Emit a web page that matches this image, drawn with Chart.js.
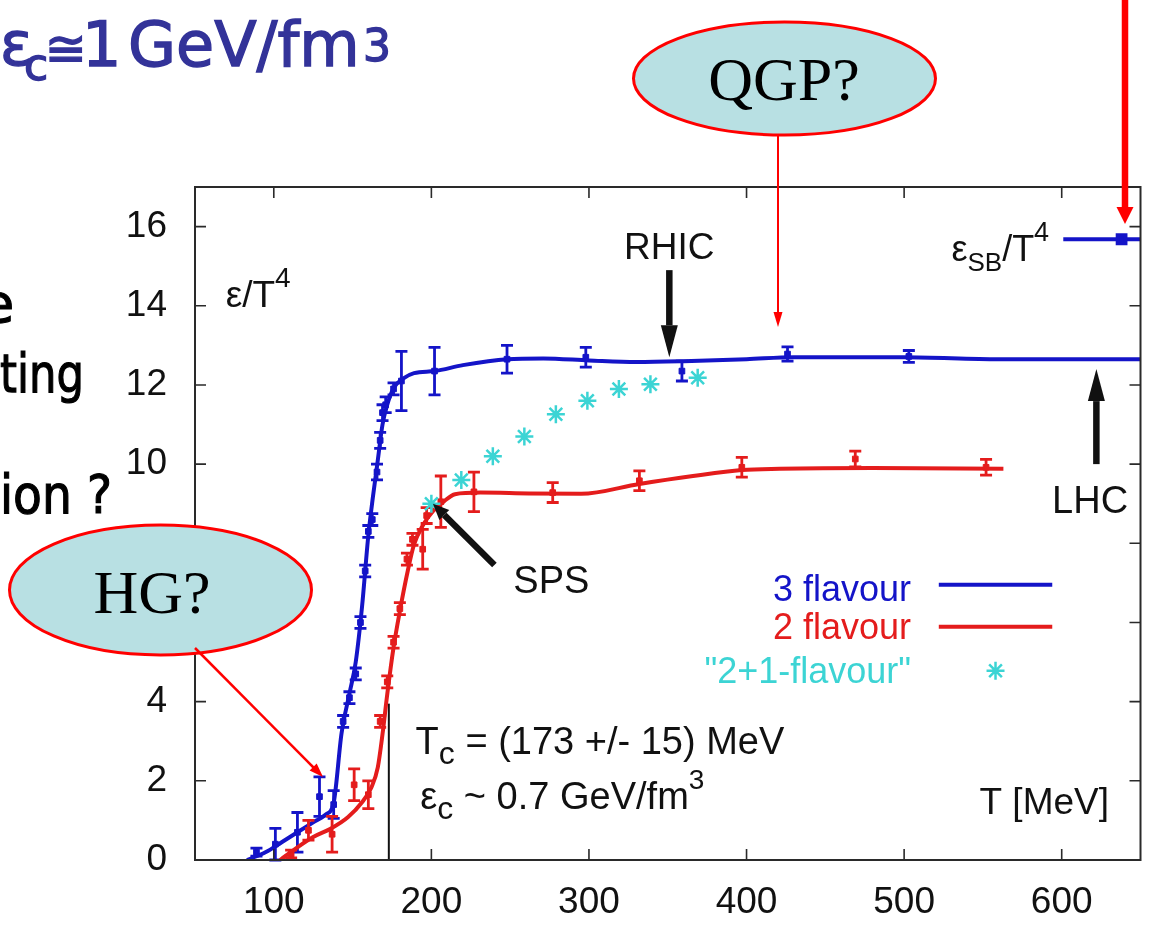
<!DOCTYPE html>
<html lang="en">
<head>
<meta charset="utf-8">
<title>Energy density ε/T⁴ vs T</title>
<script src="https://cdn.jsdelivr.net/npm/chart.js@4.4.1/dist/chart.umd.min.js"></script>
<style>
  html, body { margin: 0; padding: 0; background: #fff; }
  #page { position: relative; width: 1152px; height: 926px; overflow: hidden; background: #fff; }
  #chart { position: absolute; left: 0; top: 0; }
  #overlay { position: absolute; left: 0; top: 0; pointer-events: none; }
</style>
</head>
<body>
<div id="page">
  <canvas id="chart" width="1152" height="926"></canvas>

  <svg id="overlay" width="1152" height="926" viewBox="0 0 1152 926">
    <!-- slide text around the plot -->
    <g font-family="'Comic Sans MS', 'DejaVu Sans', sans-serif" fill="#333399" stroke="#333399" stroke-width="1.4">
      <text y="65">
        <tspan x="0" font-size="60">ε</tspan><tspan x="24" y="80" font-size="44">c</tspan><tspan x="45" y="66" font-size="50">≅</tspan><tspan x="82" font-size="62">1</tspan><tspan x="128" font-size="62">GeV/fm</tspan><tspan x="363" y="61" font-size="44">3</tspan>
      </text>
    </g>
    <g font-family="'Comic Sans MS', 'DejaVu Sans', sans-serif" fill="#000" stroke="#000" stroke-width="1.2" font-size="54">
      <text x="-19" y="322">e</text>
      <text x="0" y="392" textLength="84" lengthAdjust="spacingAndGlyphs">ting</text>
      <text x="0" y="513" textLength="112" lengthAdjust="spacingAndGlyphs">ion ?</text>
    </g>

    <!-- QGP? bubble -->
    <ellipse cx="784.5" cy="78.5" rx="151" ry="56.5" fill="#b8e0e3" stroke="#ff0000" stroke-width="3"/>
    <text x="784" y="100" text-anchor="middle" font-family="'Liberation Serif', 'Times New Roman', serif" font-size="62" fill="#000">QGP?</text>
    <line x1="778" y1="135" x2="778" y2="315" stroke="#ff0000" stroke-width="2"/>
    <polygon points="778,327 773.5,312 782.5,312" fill="#ff0000"/>

    <!-- HG? bubble -->
    <ellipse cx="160.5" cy="590" rx="151" ry="65" fill="#b8e0e3" stroke="#ff0000" stroke-width="3"/>
    <text x="152" y="613" text-anchor="middle" font-family="'Liberation Serif', 'Times New Roman', serif" font-size="62" fill="#000">HG?</text>
    <line x1="195" y1="648" x2="314" y2="768" stroke="#ff0000" stroke-width="2.5"/>
    <polygon points="323,777 309.6,770.6 316.7,763.6" fill="#ff0000"/>

    <!-- thick arrow onto the Stefan-Boltzmann limit -->
    <line x1="1125" y1="0" x2="1125" y2="210" stroke="#ff0000" stroke-width="6.5"/>
    <polygon points="1125,224 1116.5,207 1133.5,207" fill="#ff0000"/>
  </svg>
</div>

<script>
'use strict';

// ── Axes ───────────────────────────────────────────────────────────────
const xTicks = [100, 200, 300, 400, 500, 600];
const yTicks = [0, 2, 4, 6, 8, 10, 12, 14, 16];

// ── 3 flavour: fitted curve and lattice points (ε/T⁴ vs T [MeV]) ───────
const blueFitT = [83, 95, 105, 115, 125, 133, 138, 143, 148, 152, 156, 160, 163, 166, 169, 172, 176, 182, 189, 202, 220, 248, 271, 300, 330, 360, 400, 430, 500, 560, 650];
const blueFitE = [0, 0.2, 0.45, 0.7, 0.95, 1.15, 1.45, 3.2, 4.2, 5.0, 6.4, 8.2, 9.2, 10.1, 11.0, 11.5, 11.92, 12.16, 12.3, 12.35, 12.5, 12.65, 12.67, 12.62, 12.58, 12.6, 12.65, 12.7, 12.7, 12.65, 12.65];

const bluePtT   = [89, 101, 115, 129, 138, 144, 148, 152, 155, 158, 160, 162.5, 165.5, 167.5, 169, 171, 176, 181, 202, 248, 298, 359, 426, 503];
const bluePtE   = [0.2, 0.4, 0.7, 1.6, 1.4, 3.5, 4.1, 4.7, 6.0, 7.3, 8.3, 8.6, 9.8, 10.6, 11.3, 11.5, 11.9, 12.1, 12.35, 12.65, 12.7, 12.35, 12.78, 12.72];
const bluePtErr = [0.1, 0.4, 0.5, 0.5, 0.35, 0.15, 0.15, 0.15, 0.15, 0.15, 0.15, 0.15, 0.2, 0.2, 0.2, 0.2, 0.15, 0.75, 0.6, 0.35, 0.25, 0.25, 0.18, 0.15];

// ── 2 flavour ──────────────────────────────────────────────────────────
const redFitT = [104, 115, 125, 136, 147, 156, 162, 166, 169, 172, 176, 180, 185, 189, 195, 201, 208, 215, 231, 262, 295, 332, 366, 397, 421, 480, 563];
const redFitE = [0, 0.32, 0.58, 0.79, 1.08, 1.46, 1.84, 2.34, 3.18, 4.19, 5.37, 6.29, 7.3, 7.97, 8.48, 8.81, 9.06, 9.24, 9.28, 9.26, 9.25, 9.5, 9.7, 9.85, 9.88, 9.9, 9.88];

const redPtT   = [111, 122, 137, 151, 160, 167.5, 172, 176, 180, 184.5, 188, 194.5, 197, 206, 227, 277, 332, 397, 469, 552];
const redPtE   = [0.15, 0.75, 0.65, 1.9, 1.65, 3.5, 4.5, 5.5, 6.35, 7.6, 8.1, 7.85, 8.7, 9.05, 9.3, 9.28, 9.58, 9.92, 10.13, 9.92];
const redPtErr = [0.1, 0.25, 0.45, 0.4, 0.35, 0.15, 0.15, 0.15, 0.15, 0.15, 0.15, 0.5, 0.2, 0.65, 0.5, 0.25, 0.25, 0.25, 0.2, 0.2];

// ── "2+1-flavour" estimate ─────────────────────────────────────────────
const mixT = [200, 219, 239, 259, 279, 299, 319, 339, 369];
const mixE = [9.0, 9.6, 10.2, 10.7, 11.26, 11.6, 11.9, 12.02, 12.18];

// ── Stefan-Boltzmann limit (3 flavour) ─────────────────────────────────
const sbT = [601, 638, 650];
const sbE = [15.68, 15.68, 15.68];

// ── Critical temperature marker ────────────────────────────────────────
const tcT = 173;
const tcTop = 3.95;

// ── Style ──────────────────────────────────────────────────────────────
const FONT = "'Liberation Sans', Arial, Helvetica, sans-serif";
const C = {
  blue: '#1414c8',
  red:  '#e41c1c',
  cyan: '#3cd4d4',
  ink:  '#111111',
  frame: '#2a2a2a',
};

Chart.defaults.font.family = FONT;
Chart.defaults.color = C.ink;

const toXY = (xs, ys) => xs.map((x, i) => ({ x, y: ys[i] }));

// ── Canvas helpers ─────────────────────────────────────────────────────
function drawRich(ctx, x, y, parts, color) {
  ctx.fillStyle = color;
  ctx.textAlign = 'left';
  ctx.textBaseline = 'alphabetic';
  let cx = x;
  parts.forEach(p => {
    ctx.font = `${p.size}px ${FONT}`;
    ctx.fillText(p.t, cx, y + (p.dy || 0));
    cx += ctx.measureText(p.t).width;
  });
}

function drawText(ctx, text, x, y, size, color, align) {
  ctx.font = `${size}px ${FONT}`;
  ctx.fillStyle = color;
  ctx.textAlign = align || 'left';
  ctx.textBaseline = 'alphabetic';
  ctx.fillText(text, x, y);
}

function drawArrow(ctx, x1, y1, x2, y2, width, headLen, headHalf, color) {
  const ang = Math.atan2(y2 - y1, x2 - x1);
  const bx = x2 - headLen * Math.cos(ang);
  const by = y2 - headLen * Math.sin(ang);
  ctx.strokeStyle = color;
  ctx.fillStyle = color;
  ctx.lineWidth = width;
  ctx.lineCap = 'butt';
  ctx.beginPath();
  ctx.moveTo(x1, y1);
  ctx.lineTo(bx, by);
  ctx.stroke();
  ctx.beginPath();
  ctx.moveTo(x2, y2);
  ctx.lineTo(bx + headHalf * Math.sin(ang), by - headHalf * Math.cos(ang));
  ctx.lineTo(bx - headHalf * Math.sin(ang), by + headHalf * Math.cos(ang));
  ctx.closePath();
  ctx.fill();
}

// ── Plugin: error bars, frame with inner ticks, annotations, legend ────
const plotDecor = {
  id: 'plotDecor',

  beforeDatasetsDraw(chart) {
    const { ctx, scales: { x, y } } = chart;
    ctx.save();
    ctx.strokeStyle = C.ink;
    ctx.lineWidth = 2;
    ctx.beginPath();
    ctx.moveTo(x.getPixelForValue(tcT), y.getPixelForValue(0));
    ctx.lineTo(x.getPixelForValue(tcT), y.getPixelForValue(tcTop));
    ctx.stroke();
    ctx.restore();
  },

  afterDatasetDraw(chart, args) {
    const ds = chart.data.datasets[args.index];
    if (!ds.errors) return;
    const { ctx, scales: { y } } = chart;
    ctx.save();
    ctx.strokeStyle = ds.borderColor;
    ctx.lineWidth = 2.8;
    args.meta.data.forEach((el, i) => {
      const err = ds.errors[i];
      const v = ds.data[i].y;
      const top = y.getPixelForValue(v + err);
      const bot = y.getPixelForValue(Math.max(0, v - err));
      ctx.beginPath();
      ctx.moveTo(el.x, top);     ctx.lineTo(el.x, bot);
      ctx.moveTo(el.x - 6, top); ctx.lineTo(el.x + 6, top);
      ctx.moveTo(el.x - 6, bot); ctx.lineTo(el.x + 6, bot);
      ctx.stroke();
    });
    ctx.restore();
  },

  afterDatasetsDraw(chart) {
    const { ctx, chartArea: a, scales: { x, y } } = chart;
    const X = v => x.getPixelForValue(v);
    const Y = v => y.getPixelForValue(v);
    const tl = 11;

    ctx.save();

    // frame
    ctx.strokeStyle = C.frame;
    ctx.lineWidth = 2;
    ctx.strokeRect(a.left, a.top, a.right - a.left, a.bottom - a.top);

    // inner ticks on all four sides
    ctx.lineWidth = 1.6;
    ctx.beginPath();
    xTicks.forEach(v => {
      ctx.moveTo(X(v), a.bottom); ctx.lineTo(X(v), a.bottom - tl);
      ctx.moveTo(X(v), a.top);    ctx.lineTo(X(v), a.top + tl);
    });
    yTicks.filter(v => v > 0).forEach(v => {
      ctx.moveTo(a.left, Y(v));  ctx.lineTo(a.left + tl, Y(v));
      ctx.moveTo(a.right, Y(v)); ctx.lineTo(a.right - tl, Y(v));
    });
    ctx.stroke();

    // axis titles
    drawRich(ctx, X(69.5), Y(13.98), [
      { t: 'ε/T', size: 37 },
      { t: '4', size: 28, dy: -20 },
    ], C.ink);
    drawText(ctx, 'T [MeV]', X(630), Y(1.17), 37, C.ink, 'right');

    // stefan-boltzmann label
    drawRich(ctx, X(530), Y(15.12), [
      { t: 'ε', size: 36 },
      { t: 'SB', size: 26, dy: 10 },
      { t: '/T', size: 36 },
      { t: '4', size: 27, dy: -20 },
    ], C.ink);

    // collider arrows
    drawText(ctx, 'RHIC', X(351), Y(15.17), 37, C.ink, 'center');
    drawArrow(ctx, X(351), Y(14.9), X(351), Y(12.7), 6.5, 32, 8.5, C.ink);

    drawText(ctx, 'LHC', X(618), Y(8.77), 38, C.ink, 'center');
    drawArrow(ctx, X(622), Y(10.0), X(622), Y(12.4), 6.5, 32, 8.5, C.ink);

    drawText(ctx, 'SPS', X(252), Y(6.75), 38, C.ink, 'left');
    drawArrow(ctx, X(240), Y(7.45), X(201), Y(9.0), 6.5, 16, 7, C.ink);

    // critical values
    drawRich(ctx, X(190), Y(2.69), [
      { t: 'T', size: 38 },
      { t: 'c', size: 32, dy: 10 },
      { t: ' = (173 +/- 15) MeV', size: 38 },
    ], C.ink);
    drawRich(ctx, X(193), Y(1.3), [
      { t: 'ε', size: 38 },
      { t: 'c', size: 32, dy: 10 },
      { t: ' ~ 0.7 GeV/fm', size: 38 },
      { t: '3', size: 28, dy: -20 },
    ], C.ink);

    // legend
    const lx = X(504.4);
    drawText(ctx, '3 flavour', lx, Y(6.54), 36, C.blue, 'right');
    drawText(ctx, '2 flavour', lx, Y(5.585), 36, C.red, 'right');
    drawText(ctx, '"2+1-flavour"', lx, Y(4.475), 36, C.cyan, 'right');
    ctx.lineWidth = 4;
    ctx.strokeStyle = C.blue;
    ctx.beginPath(); ctx.moveTo(X(522), Y(6.95)); ctx.lineTo(X(594), Y(6.95)); ctx.stroke();
    ctx.strokeStyle = C.red;
    ctx.beginPath(); ctx.moveTo(X(522), Y(5.89)); ctx.lineTo(X(594), Y(5.89)); ctx.stroke();
    ctx.lineWidth = 2.5;
    ctx.strokeStyle = C.cyan;
    const sx = X(558), sy = Y(4.78), r = 9;
    ctx.beginPath();
    for (let k = 0; k < 4; k++) {
      const ang = k * Math.PI / 4;
      ctx.moveTo(sx - r * Math.cos(ang), sy - r * Math.sin(ang));
      ctx.lineTo(sx + r * Math.cos(ang), sy + r * Math.sin(ang));
    }
    ctx.stroke();

    ctx.restore();
  },
};

// ── Chart ──────────────────────────────────────────────────────────────
const fitLine = (label, xs, ys, color) => ({
  label,
  data: toXY(xs, ys),
  showLine: true,
  borderColor: color,
  borderWidth: 4,
  pointRadius: 0,
  cubicInterpolationMode: 'monotone',
});

const latticePoints = (label, xs, ys, errs, color) => ({
  label,
  data: toXY(xs, ys),
  errors: errs,
  showLine: false,
  pointStyle: 'rect',
  pointRadius: 4,
  backgroundColor: color,
  borderColor: color,
  borderWidth: 1,
});

new Chart(document.getElementById('chart'), {
  type: 'scatter',
  data: {
    datasets: [
      {
        label: '"2+1-flavour"',
        data: toXY(mixT, mixE),
        showLine: false,
        pointStyle: 'star',
        pointRadius: 9,
        borderColor: C.cyan,
        backgroundColor: C.cyan,
        borderWidth: 2.5,
      },
      latticePoints('2 flavour points', redPtT, redPtE, redPtErr, C.red),
      fitLine('2 flavour', redFitT, redFitE, C.red),
      latticePoints('3 flavour points', bluePtT, bluePtE, bluePtErr, C.blue),
      fitLine('3 flavour', blueFitT, blueFitE, C.blue),
      {
        label: 'SB limit',
        data: toXY(sbT, sbE),
        showLine: true,
        borderColor: C.blue,
        backgroundColor: C.blue,
        borderWidth: 4,
        pointStyle: 'rect',
        pointRadius: [0, 5.5, 0],
        clip: 8,
      },
    ],
  },
  options: {
    responsive: false,
    animation: false,
    layout: { padding: { left: 0, top: 187, right: 10, bottom: 0 } },
    plugins: {
      legend: { display: false },
      tooltip: { enabled: false },
    },
    scales: {
      x: {
        type: 'linear',
        min: 50,
        max: 650,
        afterBuildTicks: scale => { scale.ticks = xTicks.map(value => ({ value })); },
        afterFit: scale => { scale.height = 66; },
        grid: { display: false, drawTicks: false },
        border: { display: false },
        ticks: { font: { size: 37 }, color: C.ink, padding: 21, maxRotation: 0, autoSkip: false },
      },
      y: {
        type: 'linear',
        min: 0,
        max: 17,
        afterBuildTicks: scale => { scale.ticks = yTicks.map(value => ({ value })); },
        afterFit: scale => { scale.width = 195; },
        grid: { display: false, drawTicks: false },
        border: { display: false },
        ticks: { font: { size: 37 }, color: C.ink, padding: 28, autoSkip: false },
      },
    },
  },
  plugins: [plotDecor],
});
</script>
</body>
</html>
